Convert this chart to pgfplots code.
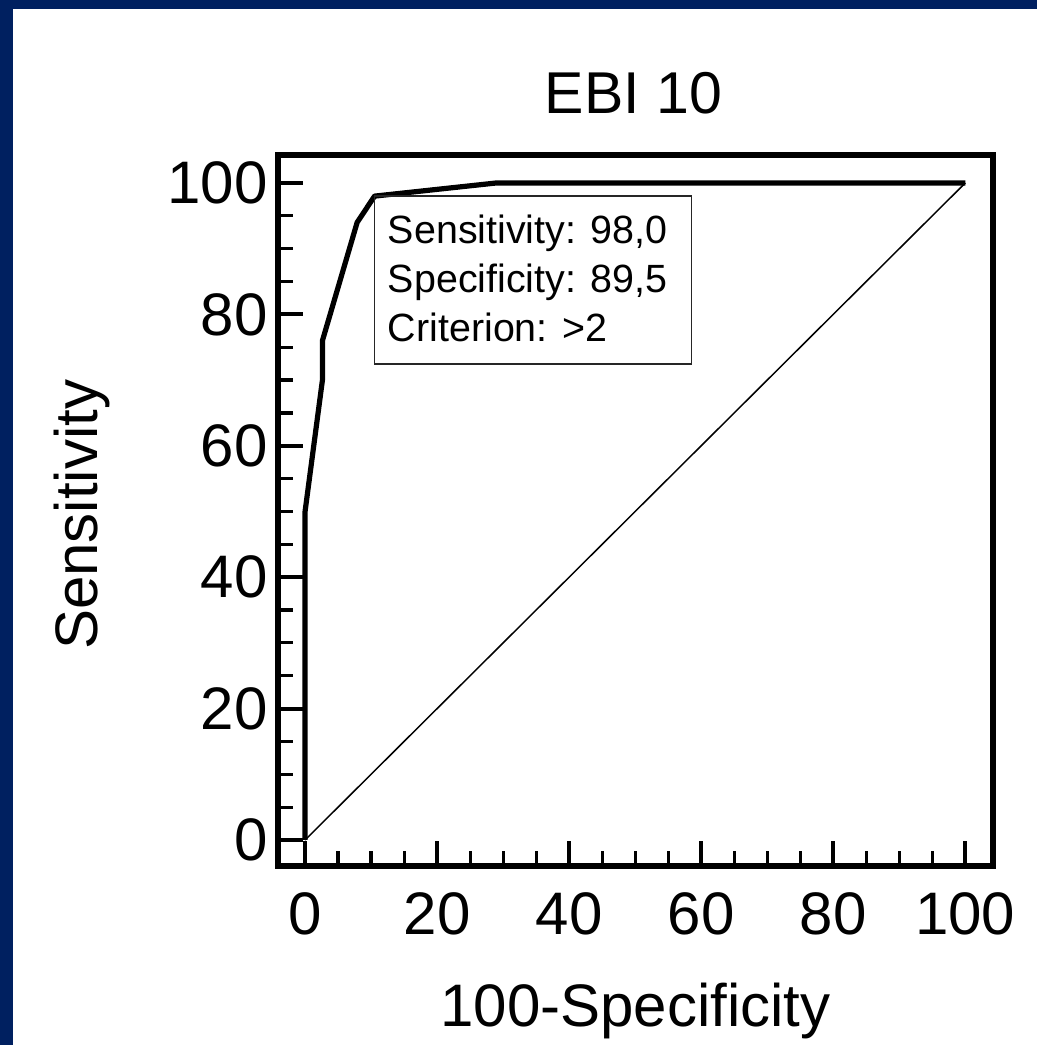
\documentclass[border=0pt]{standalone}
\usepackage{fontspec}
\setmainfont{Liberation Sans}
\usepackage{pgfplots}
\pgfplotsset{compat=1.18}
\definecolor{framenavy}{RGB}{0,32,96}

\begin{document}
\begin{tikzpicture}
% slide frame
\fill[framenavy] (0,0) rectangle (518.5bp,522.5bp);
\fill[white] (6.5bp,0) rectangle (518.5bp,518bp);
\begin{axis}[
  at={(139bp,89.5bp)}, anchor=south west,
  scale only axis, width=357.5bp, height=355.5bp,
  xmin=-4.1, xmax=104.2, ymin=-3.96, ymax=104.26,
  axis line style={line width=2.8bp},
  xtick={0,20,...,100}, ytick={0,20,...,100},
  minor tick num=3,
  tick align=inside, tick pos=left,
  major tick length=12.5bp, minor tick length=7.5bp,
  major tick style={line width=2bp, black},
  minor tick style={line width=1.6bp, black},
  /pgf/number format/assume math mode=true,
  tick label style={font=\fontsize{30bp}{36bp}\selectfont},
  xticklabel style={inner ysep=13bp},
  yticklabel style={inner xsep=5bp},
  label style={font=\fontsize{30bp}{36bp}\selectfont},
  title={EBI 10},
  title style={font=\fontsize{29.5bp}{36bp}\selectfont, at={(0.497,1.042)}, anchor=base},
  xlabel={100-Specificity},
  xlabel style={at={(0.5,-0.2264)}, anchor=base},
  ylabel={Sensitivity},
  ylabel style={at={(-0.2531,0.494)}, anchor=base},
  clip=false,
]
% reference diagonal
\addplot[black, line width=0.75bp] coordinates {(0,0) (100,100)};
% ROC curve
\addplot[black, line width=2.6bp, line join=round] coordinates {
  (0,0) (0,50) (2.63,70) (2.63,76) (7.89,94) (10.53,98) (28.95,100) (100,100)
};
% optimal criterion box
\draw[black!85, line width=0.75bp] (axis cs:10.53,98) rectangle ++(158.5bp,-84bp);
\node[anchor=north west, inner sep=0pt, align=left,
      font=\fontsize{19.7bp}{24.5bp}\selectfont]
  at ([xshift=6.5bp,yshift=-9bp]axis cs:10.53,98)
  {Sensitivity: 98,0\\Specificity: 89,5\\Criterion: >2};
\end{axis}
\pgfresetboundingbox
\useasboundingbox (0,0) rectangle (518.5bp,522.5bp);
\end{tikzpicture}
\end{document}
